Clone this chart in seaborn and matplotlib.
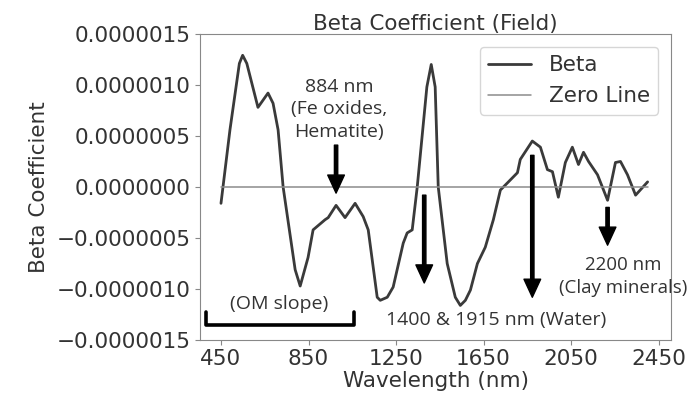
import numpy as np
import pandas as pd
import seaborn as sns
import matplotlib.pyplot as plt
from matplotlib.ticker import FuncFormatter

# values (wavelength in nm, beta coefficient)
wavelength = [450, 491, 534, 549, 568, 619, 665, 688, 711, 734, 789, 812, 848,
              871, 926, 940, 976, 1017, 1063, 1100, 1123, 1164, 1178, 1210, 1237,
              1283, 1301, 1324, 1347, 1391, 1411, 1429, 1443, 1484, 1521, 1544,
              1567, 1590, 1622, 1658, 1695, 1727, 1773, 1805, 1818, 1873, 1910,
              1942, 1965, 1992, 2024, 2056, 2084, 2107, 2130, 2171, 2217, 2253,
              2276, 2308, 2345, 2400]
beta = [-0.16e-6, 0.56e-6, 1.21e-6, 1.29e-6, 1.21e-6, 0.78e-6, 0.92e-6, 0.82e-6,
        0.56e-6, 0.0, -0.81e-6, -0.97e-6, -0.69e-6, -0.42e-6, -0.32e-6,
        -0.30e-6, -0.18e-6, -0.30e-6, -0.16e-6, -0.29e-6, -0.42e-6, -1.08e-6,
        -1.11e-6, -1.08e-6, -0.98e-6, -0.55e-6, -0.45e-6, -0.42e-6, 0.0,
        0.98e-6, 1.20e-6, 0.98e-6, 0.0, -0.75e-6, -1.08e-6, -1.16e-6, -1.11e-6,
        -1.01e-6, -0.75e-6, -0.59e-6, -0.32e-6, -0.03e-6, 0.07e-6, 0.14e-6,
        0.27e-6, 0.45e-6, 0.39e-6, 0.17e-6, 0.15e-6, -0.10e-6, 0.24e-6,
        0.39e-6, 0.22e-6, 0.34e-6, 0.25e-6, 0.12e-6, -0.13e-6, 0.24e-6,
        0.25e-6, 0.12e-6, -0.08e-6, 0.05e-6]

x_ticks = [450, 850, 1250, 1650, 2050, 2450]
y_ticks = [-1.5e-6, -1.0e-6, -0.5e-6, 0.0, 0.5e-6, 1.0e-6, 1.5e-6]

# annotation arrows: (wavelength, start, tip)
arrows = [(976, 0.41e-6, -0.06e-6),
          (1379, -0.08e-6, -0.94e-6),
          (1873, 0.31e-6, -1.08e-6),
          (2217, -0.20e-6, -0.57e-6)]

df = pd.DataFrame({'Wavelength': wavelength, 'Beta': beta})
zero_df = pd.DataFrame({'Wavelength': [wavelength[0], wavelength[-1]], 'Beta': [0.0, 0.0]})

sns.set_style("ticks")
plt.rcParams['font.family'] = ['DejaVu Sans']
plt.rcParams['axes.edgecolor'] = '#888888'
plt.rcParams['xtick.color'] = '#888888'
plt.rcParams['ytick.color'] = '#888888'
plt.rcParams['xtick.labelcolor'] = '#333333'
plt.rcParams['ytick.labelcolor'] = '#333333'

fig, ax = plt.subplots(figsize=(6.92, 4.03), dpi=100)
fig.subplots_adjust(left=0.289, right=0.970, top=0.916, bottom=0.156)

sns.lineplot(data=df, x='Wavelength', y='Beta', ax=ax, color='#3a3a3a',
             linewidth=2.0, label='Beta', sort=False)
sns.lineplot(data=zero_df, x='Wavelength', y='Beta', ax=ax, color='#8c8c8c',
             linewidth=1.1, label='Zero Line')

ax.set_xticks(x_ticks)
ax.set_yticks(y_ticks)
ax.set_xlim(354, 2508)
ax.set_ylim(-1.5e-6, 1.5e-6)
ax.yaxis.set_major_formatter(FuncFormatter(lambda v, p: ('%.7f' % v).replace('-', '\u2212')))
ax.tick_params(labelsize=15.5, pad=3)
ax.set_xlabel("Wavelength (nm)", fontsize=15.5, color='#333333', labelpad=1)
ax.set_ylabel("Beta Coefficient", fontsize=15.5, color='#333333', labelpad=6)
ax.set_title("Beta Coefficient (Field)", fontsize=15.5, color='#333333', pad=2)

ax.legend(loc='upper right', fontsize=15.5, frameon=True, handlelength=2.0,
          labelcolor='#333333', borderaxespad=0.6)

for wl, start, tip in arrows:
    ax.annotate('', xy=(wl, tip), xytext=(wl, start),
                arrowprops=dict(facecolor='black', edgecolor='black', width=2.4,
                                headwidth=12, headlength=13, shrink=0))

ann = dict(family=['Open Sans', 'DejaVu Sans'], fontsize=14, color='#333333',
           ha='center', va='center', linespacing=1.35)
ax.text(990, 0.76e-6, "884 nm\n(Fe oxides,\nHematite)", **ann)
ax.text(715, -1.15e-6, "(OM slope)", **ann)
ax.text(1709, -1.30e-6, "1400 & 1915 nm (Water)", **ann)
ax.text(2290, -0.88e-6, "2200 nm\n(Clay minerals)", clip_on=False,
        **{**ann, 'fontsize': 13.5})

# bracket under the OM slope label
ax.plot([381, 381, 1059, 1059], [-1.225e-6, -1.353e-6, -1.353e-6, -1.225e-6],
        color='black', linewidth=2.6)

fig.savefig("out.png", dpi=100)
